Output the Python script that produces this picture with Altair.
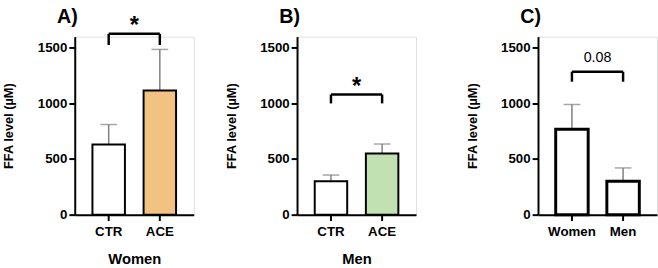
import altair as alt
import pandas as pd

# ---- data ----
a_groups = ["CTR", "ACE"]
a_means = [630, 1115]
a_err = [180, 370]
a_fills = ["#FFFFFF", "#F1C282"]

b_groups = ["CTR", "ACE"]
b_means = [301, 549]
b_err = [55, 86]
b_fills = ["#FFFFFF", "#C1E1B2"]

c_groups = ["Women", "Men"]
c_means = [768, 301]
c_err = [222, 119]
c_fills = ["#FFFFFF", "#FFFFFF"]

y_ticks = [0, 500, 1000, 1500]
y_max = 1600

# annotations: bracket level, leg bottom, label level, label text
a_annot = dict(top=1625, leg=1525, lab=1755, text="*")
b_annot = dict(top=1080, leg=1000, lab=1205, text="*")
c_annot = dict(top=1285, leg=1195, lab=1405, text="0.08")

FONT = "Liberation Sans"
W, H = 121, 181


def panel(tag, groups, means, errs, fills, annot, xtitle, bar_sw, star):
    df = pd.DataFrame({"g": groups, "m": means,
                       "hi": [m + e for m, e in zip(means, errs)],
                       "fill": fills})
    xs = alt.Scale(domain=groups, paddingInner=0.365, paddingOuter=0.346)
    x = alt.X("g:N", scale=xs, sort=groups,
              axis=alt.Axis(title=xtitle, labelAngle=0, labelFontSize=13.5,
                            labelFontWeight="bold", labelFont=FONT,
                            labelPadding=4, titleFontSize=15,
                            titleFontWeight="bold", titleFont=FONT,
                            titlePadding=14, tickSize=6, tickWidth=2,
                            domainWidth=2, labelColor="black",
                            titleColor="black", tickColor="black",
                            domainColor="black"))
    ys = alt.Scale(domain=[0, y_max], nice=False, zero=True)
    y = alt.Y("m:Q", scale=ys,
              axis=alt.Axis(values=y_ticks, format="d", title="FFA level (µM)",
                            titleFontSize=13, titleFontWeight="bold",
                            titleFont=FONT, titlePadding=22,
                            labelFontSize=13.5, labelFontWeight="bold",
                            labelFont=FONT, labelPadding=2, tickSize=6,
                            tickWidth=2, domainWidth=2, grid=False,
                            labelColor="black", titleColor="black",
                            tickColor="black", domainColor="black"))
    base = alt.Chart(df)
    err = base.mark_rule(color="#808080", strokeWidth=1.5).encode(
        x=x, y=y, y2="hi:Q")
    cap = base.mark_tick(color="#808080", thickness=1.5, size=17).encode(
        x=x, y=alt.Y("hi:Q", scale=ys))
    bars = base.mark_bar(stroke="black", strokeWidth=bar_sw).encode(
        x=x, y=y, fill=alt.Fill("fill:N", scale=None))

    adf = pd.DataFrame({"g1": [groups[0]], "g2": [groups[1]],
                        "top": [annot["top"]], "lab": [annot["lab"]]})
    ldf = pd.DataFrame({"g": groups, "leg": [annot["leg"]] * 2,
                        "top": [annot["top"]] * 2})
    hline = alt.Chart(adf).mark_rule(color="black", strokeWidth=2.5).encode(
        x=alt.X("g1:N", scale=xs, sort=groups), x2="g2:N",
        y=alt.Y("top:Q", scale=ys))
    legs = alt.Chart(ldf).mark_rule(color="black", strokeWidth=2.5).encode(
        x=alt.X("g:N", scale=xs, sort=groups),
        y=alt.Y("leg:Q", scale=ys), y2="top:Q")
    if star:
        lab = alt.Chart(adf).mark_text(text=annot["text"], fontSize=24,
                                       fontWeight="bold", font=FONT,
                                       baseline="alphabetic", dx=26, dy=14,
                                       color="black").encode(
            x=alt.X("g1:N", scale=xs, sort=groups),
            y=alt.Y("lab:Q", scale=ys))
    else:
        lab = alt.Chart(adf).mark_text(text=annot["text"], fontSize=14.5,
                                       font=FONT, baseline="middle",
                                       dx=26, color="black").encode(
            x=alt.X("g1:N", scale=xs, sort=groups),
            y=alt.Y("lab:Q", scale=ys))
    tdf = pd.DataFrame({"t": [tag]})
    tag_mark = alt.Chart(tdf).mark_text(fontSize=20, fontWeight="bold",
                                        font=FONT, align="left",
                                        baseline="alphabetic",
                                        color="black").encode(
        text="t:N", x=alt.value(-18), y=alt.value(-14))
    return alt.layer(err, cap, bars, hline, legs, lab, tag_mark).properties(
        width=W, height=H)


pa = panel("A)", a_groups, a_means, a_err, a_fills, a_annot, "Women", 2, True)
pb = panel("B)", b_groups, b_means, b_err, b_fills, b_annot, "Men", 2, True)
pc = panel("C)", c_groups, c_means, c_err, c_fills, c_annot, "", 3, False)

chart = alt.hconcat(alt.hconcat(pa, pb, spacing=30), pc, spacing=49).properties(
    padding={"left": 2, "top": 4, "right": 0, "bottom": 0}
).configure_view(stroke=None).configure(background="white")

chart.save("out.html", embed_options={"renderer": "svg", "actions": False})
